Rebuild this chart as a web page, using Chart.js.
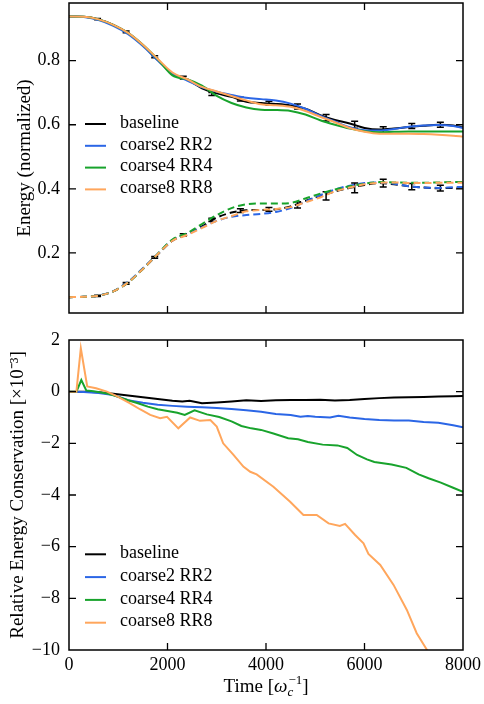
<!DOCTYPE html>
<html>
<head>
<meta charset="utf-8">
<script src="https://cdn.jsdelivr.net/npm/chart.js@4.4.0/dist/chart.umd.min.js"></script>
<style>
  body { margin: 0; background: #fff; }
  #wrap { position: relative; width: 484px; height: 704px; }
  canvas { position: absolute; left: 0; }
  #top { top: 0; }
  #bottom { top: 330px; }
</style>
</head>
<body>
<div id="wrap">
  <canvas id="top" width="484" height="330"></canvas>
  <canvas id="bottom" width="484" height="374"></canvas>
</div>
<script>
// series names and colours
const seriesNames = ['baseline', 'coarse2 RR2', 'coarse4 RR4', 'coarse8 RR8'];
const seriesColors = ['#000000', '#2b66e6', '#18a32c', '#ffa65c'];
const timeTicks = [0, 2000, 4000, 6000, 8000];

// top panel: normalized energy (solid) and the complementary part (dashed)
const tTop = [0, 300, 600, 900, 1200, 1500, 1800, 2100, 2400, 2700, 3000, 3300, 3600, 3900,
  4200, 4500, 4800, 5100, 5400, 5700, 6000, 6300, 6600, 6900, 7200, 7500, 7800, 8000];

const baselineSolid = [.938, .937, .929, .912, .886, .848, .802, .760, .742, .714, .698, .687, .672, .668,
  .665, .660, .650, .630, .615, .604, .590, .585, .588, .593, .597, .600, .598, .592];
const coarse2Solid = [.938, .936, .927, .909, .883, .846, .801, .759, .738, .717, .703, .693, .684, .680,
  .676, .666, .650, .628, .610, .592, .583, .582, .587, .594, .598, .599, .596, .590];
const coarse4Solid = [.938, .937, .929, .912, .887, .850, .805, .754, .742, .722, .690, .668, .654, .647,
  .646, .643, .632, .614, .600, .588, .580, .577, .578, .579, .579, .579, .579, .579];
const coarse8Solid = [.938, .937, .929, .912, .887, .850, .806, .763, .742, .718, .704, .690, .676, .664,
  .661, .656, .643, .625, .608, .590, .578, .572, .572, .572, .571, .569, .566, .563];

const baselineDash = [.062, .063, .067, .080, .108, .150, .195, .238, .258, .283, .310, .326, .333, .334,
  .336, .345, .362, .378, .392, .403, .412, .418, .414, .408, .404, .402, .403, .404];
const coarse2Dash = [.062, .063, .067, .081, .110, .152, .197, .240, .258, .280, .300, .313, .318, .322,
  .328, .340, .360, .380, .398, .410, .418, .420, .416, .408, .404, .403, .405, .406];
const coarse4Dash = [.062, .063, .067, .080, .108, .150, .197, .242, .262, .290, .318, .340, .352, .354,
  .354, .356, .370, .385, .398, .408, .416, .421, .420, .419, .419, .420, .421, .421];
const coarse8Dash = [.062, .063, .067, .080, .108, .150, .196, .238, .256, .278, .300, .315, .330, .334,
  .337, .343, .358, .373, .392, .404, .414, .419, .420, .418, .418, .419, .419, .419];

// baseline error bars
const errTimes = [580, 1160, 1740, 2320, 2900, 3480, 4060, 4640, 5220, 5800, 6380, 6960, 7540];
const errSolidMid = [.930, .890, .812, .747, .696, .680, .667, .657, .622, .600, .585, .596, .600];
const errSolidHalf = [.002, .003, .003, .004, .005, .006, .006, .008, .010, .011, .009, .008, .008];
const errDashMid = [.066, .105, .186, .256, .303, .332, .336, .350, .378, .403, .418, .407, .402];
const errDashHalf = [.002, .003, .003, .004, .005, .006, .006, .010, .013, .015, .012, .010, .009];

// bottom panel: relative energy conservation [x1e-3]
const tBaseline = [0, 300, 600, 900, 1200, 1500, 1800, 2100, 2300, 2450, 2700, 3000, 3300, 3600, 3900,
  4200, 4500, 4800, 5100, 5400, 5700, 6000, 6300, 6600, 6900, 7200, 7500, 7800, 8000];
const baselineCons = [0, 0, -.02, -.08, -.15, -.22, -.28, -.35, -.38, -.35, -.45, -.42, -.38, -.33, -.36,
  -.33, -.32, -.32, -.31, -.34, -.32, -.28, -.25, -.23, -.22, -.21, -.19, -.18, -.17];

const tCoarse2 = [0, 300, 600, 900, 1200, 1500, 1800, 2100, 2400, 2700, 3000, 3300, 3600, 3900, 4200,
  4500, 4700, 4850, 5000, 5300, 5470, 5700, 6000, 6300, 6600, 6900, 7200, 7500, 7800, 8000];
const coarse2Cons = [0, -.01, -.05, -.13, -.33, -.43, -.51, -.55, -.58, -.60, -.63, -.67, -.72, -.78, -.86,
  -.90, -.97, -.94, -.97, -1.00, -.93, -1.00, -1.06, -1.10, -1.12, -1.12, -1.17, -1.20, -1.30, -1.38];

const tCoarse4 = [0, 150, 250, 350, 500, 800, 1000, 1200, 1400, 1600, 1800, 2000, 2200, 2350, 2550,
  2800, 3050, 3300, 3500, 3700, 3900, 4150, 4450, 4650, 4850, 5150, 5450, 5650, 5850, 6050,
  6200, 6550, 6850, 7100, 7300, 7550, 7800, 8000];
const coarse4Cons = [0, 0, .45, .05, .02, -.08, -.2, -.33, -.45, -.58, -.68, -.75, -.82, -.90, -.72,
  -.88, -.98, -1.15, -1.33, -1.42, -1.48, -1.62, -1.80, -1.84, -1.95, -2.05, -2.08, -2.18, -2.45, -2.62,
  -2.72, -2.82, -2.95, -3.20, -3.35, -3.52, -3.72, -3.88];

const tCoarse8 = [0, 150, 240, 370, 550, 770, 970, 1240, 1440, 1650, 1850, 1990, 2220, 2460, 2660,
  2870, 3000, 3130, 3340, 3540, 3680, 3810, 4150, 4490, 4760, 5030, 5270, 5500, 5605, 5810,
  5980, 6080, 6320, 6590, 6860, 7060, 7260, 7500];
const coarse8Cons = [0, 0, 1.68, .2, .13, 0, -.17, -.45, -.68, -.9, -1.03, -.97, -1.42, -1.0, -1.13,
  -1.10, -1.35, -2.0, -2.45, -2.9, -3.1, -3.2, -3.68, -4.26, -4.77, -4.77, -5.10, -5.2, -5.12, -5.55,
  -5.87, -6.28, -6.71, -7.48, -8.45, -9.35, -9.97, -10.8];

const FONT = 'Liberation Serif';
Chart.defaults.font.family = FONT;
Chart.defaults.color = '#000';

function points(xs, ys) {
  return xs.map((x, i) => ({x: x, y: ys[i]}));
}

function minusSign(v) {
  return v < 0 ? '\u2212' + Math.abs(v) : String(v);
}

// fixed axis box sizes, no extra room for overhanging labels
function fixBox(w, h) {
  return s => {
    if (w != null) s.width = w;
    if (h != null) s.height = h;
    s.paddingTop = 0;
    s.paddingBottom = 0;
    s.paddingLeft = 0;
    s.paddingRight = 0;
  };
}

// frame round the plot area and inward ticks on all four sides
const frameTicks = {
  id: 'frameTicks',
  afterDraw(chart) {
    const {ctx, chartArea: a, scales: {x, y}} = chart;
    ctx.save();
    ctx.strokeStyle = '#000';
    ctx.setLineDash([]);
    ctx.lineWidth = 1.5;
    ctx.strokeRect(a.left, a.top, a.right - a.left, a.bottom - a.top);
    ctx.lineWidth = 1.3;
    ctx.beginPath();
    timeTicks.forEach(v => {
      const px = x.getPixelForValue(v);
      if (px <= a.left + 1 || px >= a.right - 1) return;
      ctx.moveTo(px, a.bottom); ctx.lineTo(px, a.bottom - 7);
      ctx.moveTo(px, a.top); ctx.lineTo(px, a.top + 7);
    });
    y.ticks.forEach(t => {
      const py = y.getPixelForValue(t.value);
      if (py <= a.top + 1 || py >= a.bottom - 1) return;
      ctx.moveTo(a.left, py); ctx.lineTo(a.left + 7, py);
      ctx.moveTo(a.right, py); ctx.lineTo(a.right - 7, py);
    });
    ctx.stroke();
    ctx.restore();
  }
};

function legendPlugin(offsetY, gap) {
  return {
    id: 'legendBox',
    afterDraw(chart) {
      const {ctx, chartArea: a} = chart;
      ctx.save();
      ctx.font = '18px "Liberation Serif"';
      ctx.textBaseline = 'middle';
      seriesNames.forEach((name, i) => {
        const yy = a.top + offsetY + i * gap;
        ctx.strokeStyle = seriesColors[i];
        ctx.lineWidth = 2;
        ctx.setLineDash([]);
        ctx.beginPath();
        ctx.moveTo(a.left + 16, yy);
        ctx.lineTo(a.left + 37, yy);
        ctx.stroke();
        ctx.fillStyle = '#000';
        ctx.fillText(name, a.left + 51, yy - 1);
      });
      ctx.restore();
    }
  };
}

const errorBars = {
  id: 'errorBars',
  beforeDatasetsDraw(chart) {
    const {ctx, scales: {x, y}} = chart;
    ctx.save();
    ctx.strokeStyle = '#000';
    ctx.lineWidth = 1.5;
    [[errSolidMid, errSolidHalf], [errDashMid, errDashHalf]].forEach(([mid, half]) => {
      errTimes.forEach((t, i) => {
        const px = x.getPixelForValue(t);
        const y1 = y.getPixelForValue(mid[i] + half[i]);
        const y2 = y.getPixelForValue(mid[i] - half[i]);
        ctx.beginPath();
        ctx.moveTo(px, y1); ctx.lineTo(px, y2);
        ctx.moveTo(px - 3.5, y1); ctx.lineTo(px + 3.5, y1);
        ctx.moveTo(px - 3.5, y2); ctx.lineTo(px + 3.5, y2);
        ctx.stroke();
      });
    });
    ctx.restore();
  }
};

// x axis title with sub/superscript: Time [omega_c^-1]
const timeTitle = {
  id: 'timeTitle',
  afterDraw(chart) {
    const {ctx, chartArea: a} = chart;
    const base = a.bottom + 42;
    const big = '19px "Liberation Serif"', bigIt = 'italic 19px "Liberation Serif"';
    const small = '13px "Liberation Serif"', smallIt = 'italic 13px "Liberation Serif"';
    ctx.save();
    ctx.fillStyle = '#000';
    ctx.textBaseline = 'alphabetic';
    ctx.textAlign = 'left';
    ctx.font = big; const w1 = ctx.measureText('Time [').width;
    ctx.font = bigIt; const w2 = ctx.measureText('\u03c9').width;
    ctx.font = smallIt; const wc = ctx.measureText('c').width;
    ctx.font = small; const ws = ctx.measureText('\u22121').width;
    ctx.font = big; const w3 = ctx.measureText(']').width;
    const total = w1 + w2 + Math.max(wc, ws) + 1 + w3;
    let x = (a.left + a.right) / 2 - total / 2;
    ctx.font = big; ctx.fillText('Time [', x, base); x += w1;
    ctx.font = bigIt; ctx.fillText('\u03c9', x, base); x += w2;
    ctx.font = smallIt; ctx.fillText('c', x, base + 4);
    ctx.font = small; ctx.fillText('\u22121', x + 1, base - 8);
    x += Math.max(wc, ws) + 1;
    ctx.font = big; ctx.fillText(']', x, base);
    ctx.restore();
  }
};

function lineSet(label, data, color, order, dashed, smooth) {
  return {
    label: label,
    data: data,
    borderColor: color,
    backgroundColor: color,
    borderWidth: 2,
    borderDash: dashed ? [7, 4] : [],
    pointRadius: 0,
    fill: false,
    order: order,
    tension: smooth ? 0.4 : 0,
    cubicInterpolationMode: smooth ? 'monotone' : 'default'
  };
}

const solids = [baselineSolid, coarse2Solid, coarse4Solid, coarse8Solid];
const dashes = [baselineDash, coarse2Dash, coarse4Dash, coarse8Dash];

const topSets = [];
solids.forEach((s, i) => topSets.push(lineSet(seriesNames[i], points(tTop, s), seriesColors[i], 4 - i, false, true)));
dashes.forEach((s, i) => topSets.push(lineSet(seriesNames[i], points(tTop, s), seriesColors[i], 4 - i, true, true)));

new Chart(document.getElementById('top'), {
  type: 'line',
  data: {datasets: topSets},
  options: {
    responsive: false,
    animation: false,
    devicePixelRatio: 1,
    layout: {padding: {top: 3, right: 21, left: 0, bottom: 0}},
    plugins: {legend: {display: false}, tooltip: {enabled: false}},
    scales: {
      x: {
        type: 'linear', min: 0, max: 8000,
        grid: {display: false, drawTicks: false},
        border: {display: false},
        ticks: {display: false, stepSize: 2000},
        afterFit: fixBox(null, 17)
      },
      y: {
        min: 0.0125, max: 0.98,
        grid: {display: false, drawTicks: false},
        border: {display: false},
        ticks: {stepSize: 0.2, includeBounds: false, padding: 9, font: {size: 18},
          callback: v => v.toFixed(1)},
        title: {display: true, text: 'Energy (normalized)', font: {size: 19}, padding: {top: 14, bottom: 0}},
        afterFit: fixBox(69, null)
      }
    }
  },
  plugins: [errorBars, frameTicks, legendPlugin(121, 21.8)]
});

const consT = [tBaseline, tCoarse2, tCoarse4, tCoarse8];
const consV = [baselineCons, coarse2Cons, coarse4Cons, coarse8Cons];
const bottomSets = consV.map((v, i) => lineSet(seriesNames[i], points(consT[i], v), seriesColors[i], 4 - i, false, false));

new Chart(document.getElementById('bottom'), {
  type: 'line',
  data: {datasets: bottomSets},
  options: {
    responsive: false,
    animation: false,
    devicePixelRatio: 1,
    layout: {padding: {top: 10, right: 21, left: 0, bottom: 0}},
    plugins: {legend: {display: false}, tooltip: {enabled: false}},
    scales: {
      x: {
        type: 'linear', min: 0, max: 8000,
        grid: {display: false, drawTicks: false},
        border: {display: false},
        ticks: {stepSize: 2000, padding: 4, maxRotation: 0, autoSkip: false, font: {size: 18},
          callback: v => String(v)},
        afterFit: fixBox(null, 54)
      },
      y: {
        min: -10, max: 2,
        grid: {display: false, drawTicks: false},
        border: {display: false},
        ticks: {stepSize: 2, padding: 9, font: {size: 18}, callback: v => minusSign(v)},
        title: {display: true, text: 'Relative Energy Conservation [\u00d710\u207b\u00b3]', font: {size: 19},
          padding: {top: 7, bottom: 0}},
        afterFit: fixBox(69, null)
      }
    }
  },
  plugins: [frameTicks, legendPlugin(214.3, 22.8), timeTitle]
});
</script>
</body>
</html>
